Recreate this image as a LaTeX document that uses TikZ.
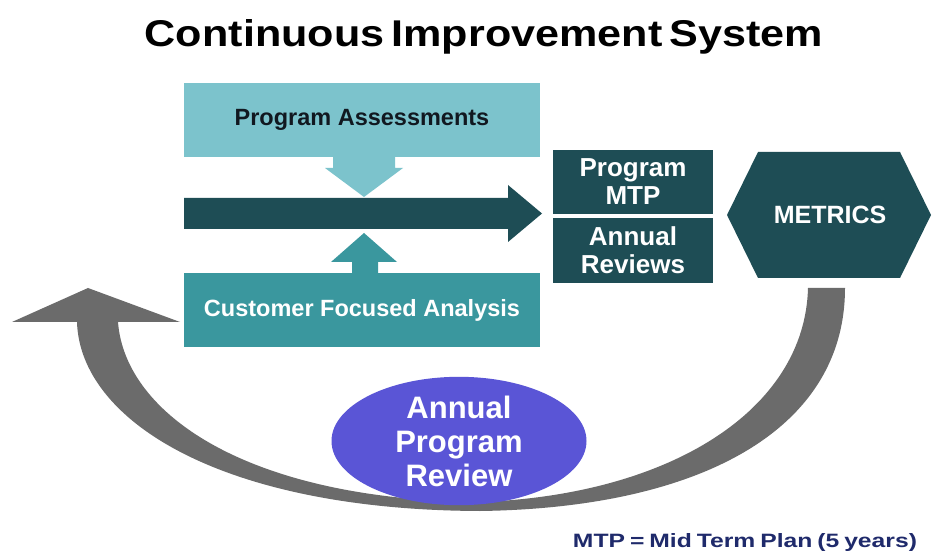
\documentclass[tikz,border=0pt]{standalone}
\usepackage{fontspec}
\setmainfont{Liberation Sans}
\usepackage{graphicx}
\usetikzlibrary{shapes.geometric}
\definecolor{lteal}{HTML}{7CC3CC}
\definecolor{mteal}{HTML}{3A979E}
\definecolor{dteal}{HTML}{1E4D55}
\definecolor{agray}{HTML}{6B6B6B}
\definecolor{eblue}{HTML}{5A55D6}
\definecolor{navy}{HTML}{1F2A6B}
\definecolor{tdark}{HTML}{111820}
\begin{document}
\begin{tikzpicture}[x=1pt,y=-1pt,
  txt/.style={inner sep=0pt, align=center, font=\bfseries\fontsize{23.5}{26}\selectfont},
  widebox/.style={txt, rectangle, minimum width=356pt, minimum height=74pt},
  darkbox/.style={txt, rectangle, fill=dteal, text=white, minimum width=160pt, minimum height=65pt,
    font=\bfseries\fontsize{26}{28}\selectfont},
  ovalnode/.style={ellipse, fill=eblue, text=white, inner sep=0pt, minimum width=255pt, minimum height=108pt,
    align=center, font=\bfseries\fontsize{31}{34}\selectfont}]
\useasboundingbox (0,0) rectangle (932,553);
\fill[white] (0,0) rectangle (932,553);

% title
\node[inner sep=0pt, anchor=base] (title) at (484,47)
  {\resizebox{678pt}{27pt}{\bfseries\spaceskip=0.17em\relax Continuous Improvement System}};

% grey return arrow
\fill[agray] (845,288) .. controls (845,430) and (700,508) .. (480,511)
  .. controls (220,510) and (80,420) .. (77,322)
  -- (12,322) -- (88,288) -- (180,322) -- (118,322)
  .. controls (125,415) and (250,500) .. (480,502)
  .. controls (670,495) and (805,410) .. (808,288) -- cycle;

% boxes
\node[widebox, fill=lteal, text=tdark] (pa) at (362,120) {Program Assessments};
\node[widebox, fill=mteal, text=white] (cfa) at (362,310) {Customer Focused Analysis};

% down arrow from Program Assessments
\fill[lteal] (333,157) -- (395,157) -- (395,168) -- (403,168) -- (364,197) -- (325,168) -- (333,168) -- cycle;
% up arrow from Customer Focused Analysis
\fill[mteal] (352,273) -- (378,273) -- (378,262) -- (397,262) -- (364,233) -- (331,262) -- (352,262) -- cycle;
% main arrow
\fill[dteal] (184,198) -- (508,198) -- (508,185) -- (542,213.5) -- (508,242) -- (508,229) -- (184,229) -- cycle;

\node[darkbox, minimum height=64pt] (mtp) at (633,182) {Program\\MTP};
\node[darkbox] (ar) at (633,250.5) {Annual\\Reviews};

% metrics hexagon
\fill[dteal] (727,215) -- (758,152) -- (900,152) -- (931,215) -- (900,278) -- (758,278) -- cycle;
\node[txt, text=white, font=\bfseries\fontsize{25}{28}\selectfont] (metrics) at (830,215) {METRICS};

% ellipse
\node[ovalnode] (apr) at (459,441) {Annual\\Program\\Review};

% footnote
\node[inner sep=0pt, anchor=base, text=navy] (note) at (745,547)
  {\resizebox{344pt}{14pt}{\bfseries\spaceskip=0.2em\relax MTP = Mid Term Plan (5 years)}};
\end{tikzpicture}
\end{document}
